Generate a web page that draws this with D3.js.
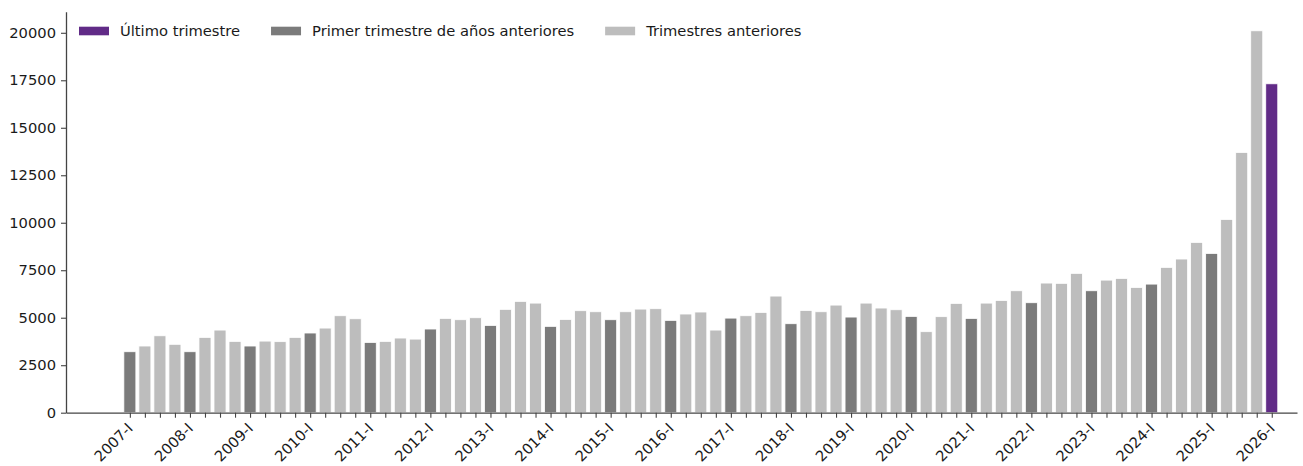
<!DOCTYPE html>
<html>
<head>
<meta charset="utf-8">
<script src="https://cdn.jsdelivr.net/npm/d3@7"></script>
<style>
  body { margin: 0; background: #fff; }
  svg { display: block; font-family: "DejaVu Sans", sans-serif; }
</style>
</head>
<body>
<svg id="chart" width="1303" height="466"></svg>
<script>
// Data
const years = d3.range(2007, 2027);
const quarters = ["I", "II", "III", "IV"];
// quarterly values 2007-I ... 2026-I
const values = [
  3210, 3510, 4050, 3600,   // 2007
  3210, 3965, 4350, 3755,   // 2008
  3510, 3770, 3740, 3965,   // 2009
  4195, 4455, 5105, 4945,   // 2010
  3700, 3755, 3930, 3875,   // 2011
  4405, 4965, 4895, 5000,   // 2012
  4595, 5440, 5860, 5770,   // 2013
  4545, 4910, 5370, 5315,   // 2014
  4895, 5315, 5455, 5475,   // 2015
  4860, 5195, 5300, 4350,   // 2016
  4980, 5105, 5280, 6140,   // 2017
  4685, 5385, 5315, 5665,   // 2018
  5035, 5770, 5510, 5420,   // 2019
  5070, 4265, 5055, 5755,   // 2020
  4965, 5770, 5910, 6420,   // 2021
  5790, 6825, 6810, 7335,   // 2022
  6420, 6980, 7070, 6595,   // 2023
  6770, 7650, 8090, 8965,   // 2024
  8385, 10175, 13700, 20105, // 2025
  17315                     // 2026
];
const labels = [];
years.forEach(y => quarters.forEach(q => labels.push(y + "-" + q)));
labels.length = values.length;

const legendNames = ["Último trimestre", "Primer trimestre de años anteriores", "Trimestres anteriores"];
const colors = ["#612b87", "#7b7b7b", "#bdbdbd"];

// Initial values
let margin = { left: 66, right: 6, top: 11.7, bottom: 53.3 },
  width = 1303,
  height = 466,
  axisColor = "#444",
  textColor = "#1a1a1a",
  fontSize = 14.7;

const data = values.map((v, i) => ({
  label: labels[i],
  value: v,
  i: i,
  kind: i === values.length - 1 ? 0 : (labels[i].endsWith("-I") ? 1 : 2)
}));

const svg = d3.select("#chart");

// index scale, leaves room on the left like the reference
const xScale = d3.scaleLinear()
  .domain([-4.25, values.length + 0.68])
  .range([margin.left, width - margin.right]);
const step = xScale(1) - xScale(0);

const yScale = d3.scaleLinear()
  .domain([0, d3.max(values) * 1.05])
  .range([height - margin.bottom, margin.top]);

// Bars
svg.append("g")
  .selectAll("rect")
  .data(data)
  .join("rect")
  .attr("x", d => xScale(d.i) - step * 0.4)
  .attr("width", step * 0.8)
  .attr("y", d => yScale(d.value))
  .attr("height", d => yScale(0) - yScale(d.value))
  .attr("fill", d => colors[d.kind])
  .attr("stroke", "#fff")
  .attr("stroke-width", 0.8);

// Y axis
const yAxis = svg.append("g")
  .attr("transform", "translate(" + margin.left + ",0)")
  .call(d3.axisLeft(yScale)
    .tickValues(d3.range(0, 20001, 2500))
    .tickFormat(d3.format("d"))
    .tickSize(5)
    .tickPadding(5)
    .tickSizeOuter(0));

// X axis, a tick on every quarter, label on first quarters only
const xAxis = svg.append("g")
  .attr("transform", "translate(0," + (height - margin.bottom) + ")")
  .call(d3.axisBottom(xScale)
    .tickValues(data.map(d => d.i))
    .tickFormat(i => labels[i].endsWith("-I") ? labels[i] : "")
    .tickSize(5)
    .tickSizeOuter(0));

xAxis.selectAll("text")
  .attr("text-anchor", "end")
  .attr("y", 0)
  .attr("dy", 0)
  .attr("transform", "translate(3.5,16.5) rotate(-45)");

[yAxis, xAxis].forEach(ax => {
  ax.select(".domain").attr("stroke", axisColor).attr("stroke-width", 1.3);
  ax.selectAll(".tick line").attr("stroke", axisColor).attr("stroke-width", 1.1);
  ax.selectAll("text")
    .attr("fill", textColor)
    .attr("font-size", fontSize)
    .attr("font-family", "DejaVu Sans, sans-serif");
});

// Legend, chained left to right
const legend = svg.append("g").attr("transform", "translate(79, 31)");
let lx = 0;
legendNames.forEach((name, k) => {
  legend.append("rect")
    .attr("x", lx)
    .attr("y", -4.3)
    .attr("width", 30)
    .attr("height", 8.6)
    .attr("fill", colors[k]);
  const t = legend.append("text")
    .attr("x", lx + 41)
    .attr("y", 0)
    .attr("dy", "0.36em")
    .attr("fill", textColor)
    .attr("font-size", fontSize)
    .text(name);
  lx += 41 + t.node().getComputedTextLength() + 31;
});
</script>
</body>
</html>
